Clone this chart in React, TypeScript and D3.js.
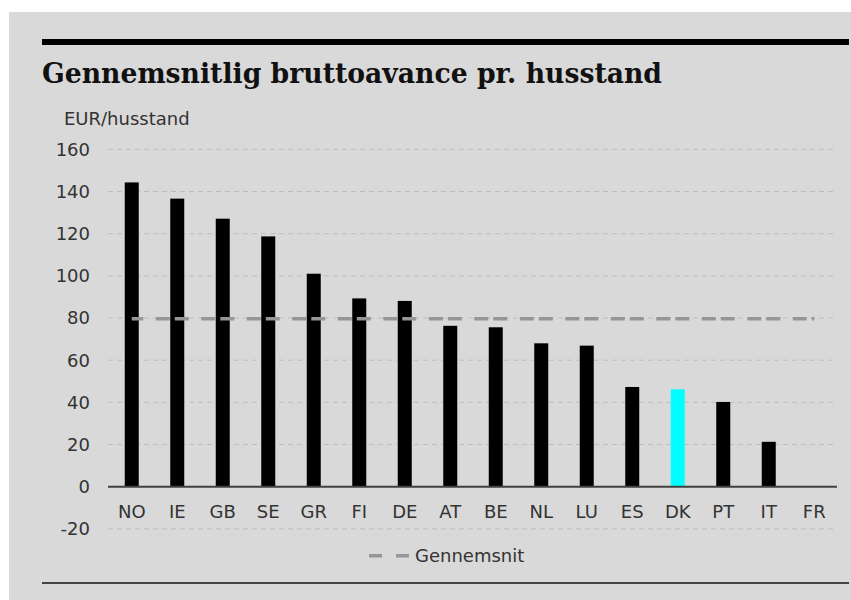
import * as d3 from 'd3'

const countries = ['NO', 'IE', 'GB', 'SE', 'GR', 'FI', 'DE', 'AT', 'BE', 'NL', 'LU', 'ES', 'DK', 'PT', 'IT', 'FR']
const margins = [144.3, 136.6, 127.1, 118.7, 101, 89.3, 88.1, 76.3, 75.6, 68, 66.9, 47.3, 46.2, 40.2, 21.3, 0]
const average = 79.7
const yTicks = [-20, 0, 20, 40, 60, 80, 100, 120, 140, 160]
const highlight = 'DK'

const W = 851
const H = 600
const font = '"DejaVu Sans", Verdana, sans-serif'

const App = () => {
  const x = d3.scaleBand<string>().domain(countries).range([109, 837]).paddingInner(0.7).paddingOuter(0.35)
  const step = (837 - 109) / countries.length
  const center = (c: string) => 109 + step * (countries.indexOf(c) + 0.5)
  const barW = 14
  const y = d3.scaleLinear().domain([-20, 160]).range([528.9, 149.3])

  const avgLine = d3.line<string>().x((c) => center(c)).y(() => y(average))

  return (
    <div style={{ position: 'absolute', left: 0, top: 0 }}>
      <svg width={W} height={H} style={{ display: 'block' }}>
        <rect x={0} y={0} width={W} height={H} fill="#fff" />
        <rect x={9} y={12} width={W - 9} height={H - 12} fill="#d9d9d9" />
        <rect x={42} y={39} width={807} height={6} fill="#000" />
        <text
          x={42}
          y={83}
          fontFamily='"DejaVu Serif", Georgia, serif'
          fontWeight="bold"
          fontSize={27}
          textLength={620}
          lengthAdjust="spacingAndGlyphs"
          fill="#111"
        >
          Gennemsnitlig bruttoavance pr. husstand
        </text>
        <text x={64} y={125} fontFamily={font} fontSize={18} fill="#333">
          EUR/husstand
        </text>

        {yTicks.map((t) => (
          <g key={t}>
            {t !== 0 && (
              <line x1={108} x2={837} y1={y(t)} y2={y(t)} stroke="#bdbdbd" strokeWidth={1} strokeDasharray="5,4" />
            )}
            <text x={90} y={y(t)} dy="0.36em" textAnchor="end" fontFamily={font} fontSize={18} fill="#333">
              {t}
            </text>
          </g>
        ))}

        {countries.map((c, i) => (
          <rect
            key={c}
            x={center(c) - barW / 2}
            y={y(Math.max(0, margins[i]))}
            width={x.bandwidth() > 0 ? barW : 0}
            height={Math.abs(y(margins[i]) - y(0))}
            fill={c === highlight ? '#00ffff' : '#000'}
          />
        ))}

        <line x1={108} x2={837} y1={y(0)} y2={y(0)} stroke="#404040" strokeWidth={2} />

        <path
          d={avgLine(countries) ?? ''}
          fill="none"
          stroke="#969696"
          strokeWidth={3.5}
          strokeDasharray="14,5,14,12.5"
          strokeDashoffset={21.45}
        />

        {countries.map((c) => (
          <text key={c} x={center(c)} y={y(0) + 31} textAnchor="middle" fontFamily={font} fontSize={18} fill="#333">
            {c}
          </text>
        ))}

        <line
          x1={369}
          x2={409}
          y1={555.7}
          y2={555.7}
          stroke="#969696"
          strokeWidth={3.5}
          strokeDasharray="13,14,13"
        />
        <text x={415} y={562} fontFamily={font} fontSize={18} fill="#333">
          Gennemsnit
        </text>

        <rect x={42} y={582} width={807} height={2} fill="#444" />
      </svg>
    </div>
  )
}

export default App
